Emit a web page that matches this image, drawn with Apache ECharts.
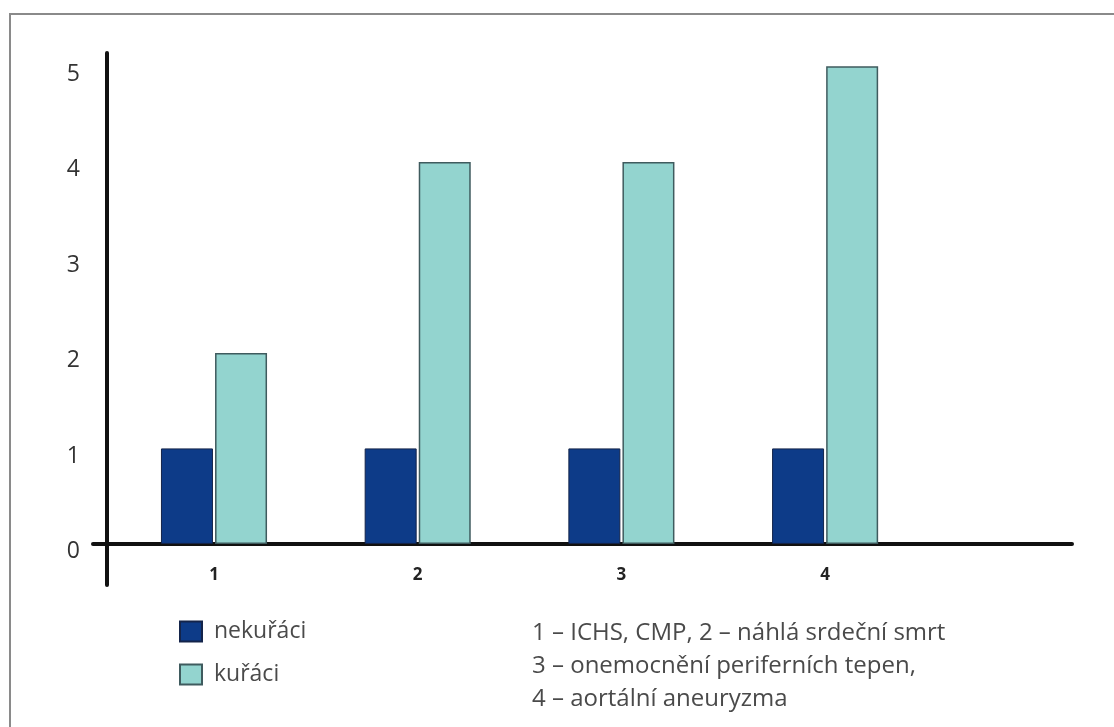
<!DOCTYPE html>
<html>
<head>
<meta charset="utf-8">
<script src="https://cdn.jsdelivr.net/npm/echarts@6/dist/echarts.min.js"></script>
<style>
  html, body { margin: 0; padding: 0; background: #fff; }
  #chart { width: 1114px; height: 727px; }
</style>
</head>
<body>
<div id="chart"></div>
<script>
// categories (positions on the x axis) and their labels
var categories = [1, 2, 3, 4];
var categoryLabels = ['1', '2', '3', '4'];
var yTicks = [0, 1, 2, 3, 4, 5];

// series values
var nekuraci = [1, 1, 1, 1];
var kuraci = [2, 4, 4, 5];

var noteLines = [
	'1 – ICHS, CMP, 2 – náhlá srdeční smrt',
	'3 – onemocnění periferních tepen,',
	'4 – aortální aneuryzma'
];

function pairs(values) {
	return categories.map(function (c, i) { return [c, values[i]]; });
}

var chart = echarts.init(document.getElementById('chart'));

var option = {
	backgroundColor: '#fff',
	animation: false,
	textStyle: { fontFamily: '"Open Sans", Lato, sans-serif' },
	grid: { left: 93, right: 42, top: 53, bottom: 142 },
	legend: {
		orient: 'vertical',
		left: 179,
		top: 620,
		padding: 0,
		itemWidth: 22,
		itemHeight: 20,
		itemGap: 20,
		icon: 'rect',
		textStyle: { fontSize: 23, lineHeight: 22, color: '#4a4a4a', padding: [0, 0, 0, 7] },
		data: ['nekuřáci', 'kuřáci']
	},
	xAxis: {
		type: 'value',
		min: 0.406,
		max: 5.212,
		splitLine: { show: false },
		axisTick: { show: false },
		axisLine: { show: true, onZero: true, lineStyle: { color: '#111', width: 4 } },
		axisLabel: {
			margin: -18,
			fontSize: 17,
			fontWeight: 'bold',
			color: '#222',
			showMinLabel: false,
			showMaxLabel: false,
			formatter: function (v) {
				var i = categories.indexOf(v);
				return i >= 0 ? categoryLabels[i] : '';
			}
		}
	},
	yAxis: {
		type: 'value',
		min: -0.43,
		max: 5.14,
		offset: -14,
		splitLine: { show: false },
		axisTick: { show: false },
		axisLine: { show: true, lineStyle: { color: '#111', width: 4 } },
		axisLabel: {
			margin: 27,
			fontSize: 23,
			fontWeight: 500,
			color: '#333',
			verticalAlign: 'top',
			lineHeight: 16,
			showMinLabel: false,
			showMaxLabel: false,
			formatter: function (v) {
				return yTicks.indexOf(v) >= 0 ? String(v) : '';
			}
		}
	},
	series: [
		{
			name: 'nekuřáci',
			type: 'bar',
			barWidth: 52,
			barGap: '4%',
			itemStyle: { color: '#0d3b88', borderColor: '#14244a', borderWidth: 1 },
			data: pairs(nekuraci)
		},
		{
			name: 'kuřáci',
			type: 'bar',
			barWidth: 52,
			barGap: '4%',
			itemStyle: { color: '#93d4cf', borderColor: '#3f5b5e', borderWidth: 1.5 },
			data: pairs(kuraci)
		}
	],
	graphic: [
		{
			type: 'rect',
			z: -10,
			silent: true,
			shape: { x: 10, y: 14, width: 1130, height: 740 },
			style: { fill: 'none', stroke: '#8a8a8a', lineWidth: 2 }
		},
		{
			type: 'text',
			left: 532,
			top: 617,
			style: {
				text: noteLines.join('\n'),
				fontSize: 24,
				lineHeight: 33,
				fill: '#4a4a4a',
				fontFamily: '"Open Sans", Lato, sans-serif'
			}
		}
	]
};

chart.setOption(option);
</script>
</body>
</html>
